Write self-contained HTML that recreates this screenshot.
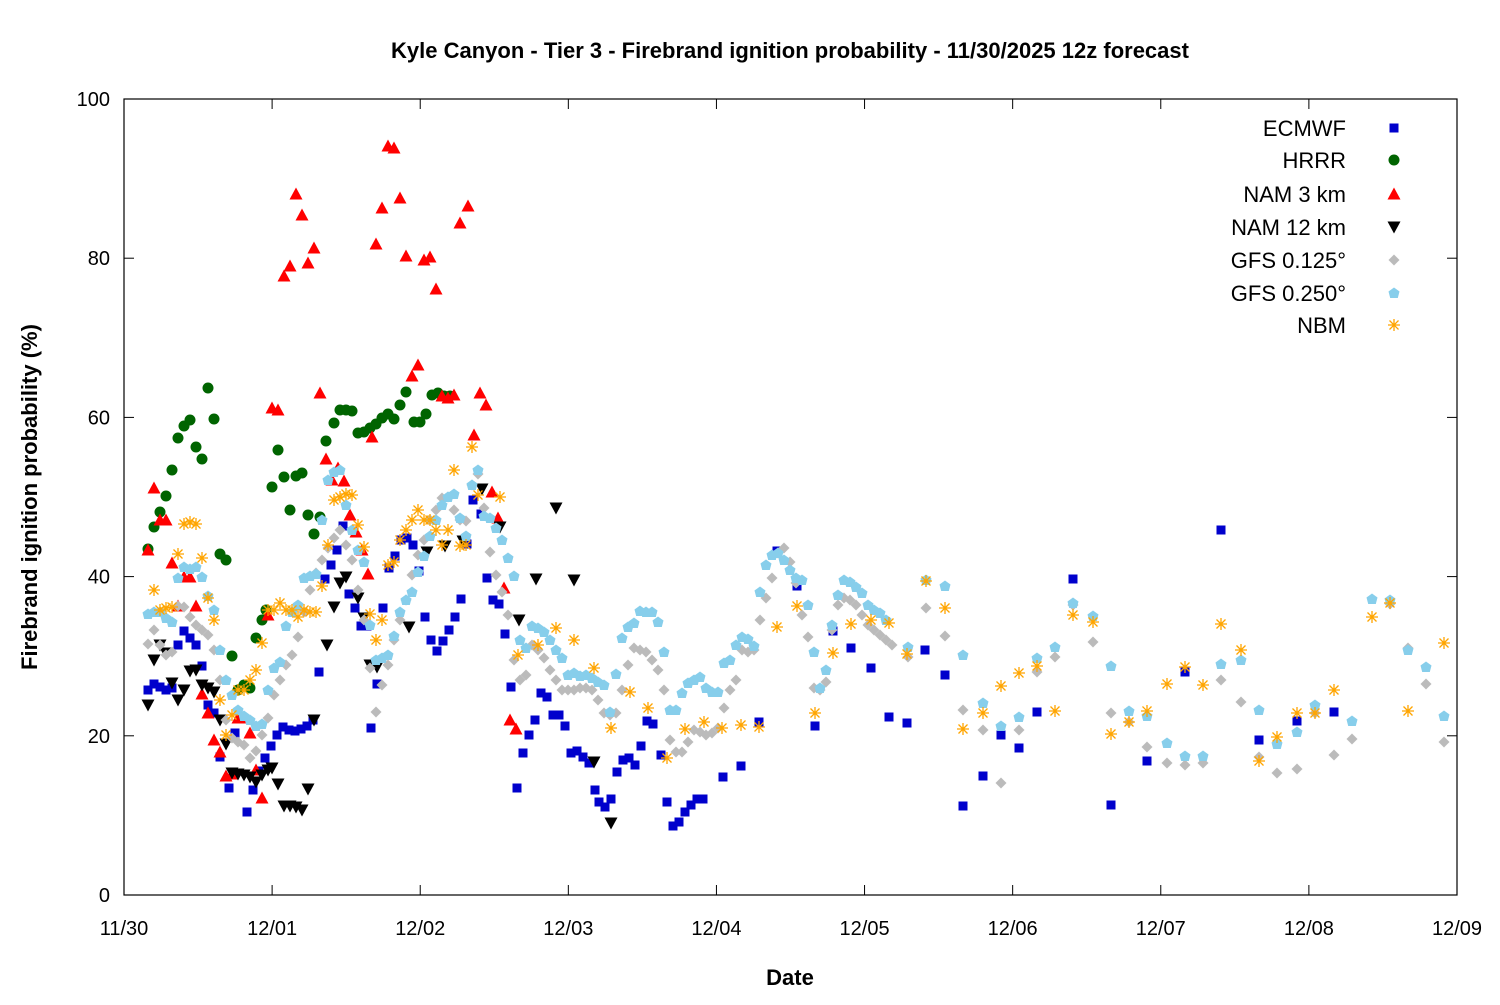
<!DOCTYPE html>
<html><head><meta charset="utf-8"><style>
html,body{margin:0;padding:0;background:#fff;}
svg text{font-family:"Liberation Sans","DejaVu Sans",sans-serif;}
</style></head><body>
<svg id="s" width="1500" height="1000" xmlns="http://www.w3.org/2000/svg">
<rect width="1500" height="1000" fill="#fff"/>
<text x="790" y="58" text-anchor="middle" font-size="22" font-weight="bold">Kyle Canyon - Tier 3 - Firebrand ignition probability - 11/30/2025 12z forecast</text>
<g id="pts"></g>
<rect x="124" y="99" width="1333" height="796" fill="none" stroke="#000" stroke-width="1.2"/>
<g id="ax" font-size="20"></g>
<text x="790" y="985" text-anchor="middle" font-size="22" font-weight="bold">Date</text>
<text transform="translate(37,497) rotate(-90)" text-anchor="middle" font-size="22" font-weight="bold">Firebrand ignition probability (%)</text>
<g id="leg" font-size="22"></g>
</svg>
<script>
const NS="http://www.w3.org/2000/svg";
function el(t,a,p){const e=document.createElementNS(NS,t);for(const k in a)e.setAttribute(k,a[k]);p.appendChild(e);return e;}
const ax=document.getElementById('ax');
const dates=["11/30","12/01","12/02","12/03","12/04","12/05","12/06","12/07","12/08","12/09"];
for(let i=0;i<10;i++){const x=124+i*148.11;
 el('line',{x1:x,y1:895,x2:x,y2:885,stroke:'#000'},ax);el('line',{x1:x,y1:99,x2:x,y2:109,stroke:'#000'},ax);
 const t=el('text',{x:x,y:935,'text-anchor':'middle'},ax);t.textContent=dates[i];}
for(let i=0;i<=5;i++){const y=895-i*159.2;
 el('line',{x1:124,y1:y,x2:134,y2:y,stroke:'#000'},ax);el('line',{x1:1457,y1:y,x2:1447,y2:y,stroke:'#000'},ax);
 const t=el('text',{x:110,y:y+7,'text-anchor':'end'},ax);t.textContent=i*20;}
function P(s){const a=s.trim().split(/;\s*/).map(p=>p.split(',').map(Number));return a;}
const g=document.getElementById('pts');
function mark(type,x,y,c,par){par=par||g;
 if(type=='sq')el('rect',{x:x-4.5,y:y-4.5,width:9,height:9,fill:c},par);
 else if(type=='ci')el('circle',{cx:x,cy:y,r:5.5,fill:c},par);
 else if(type=='tu')el('polygon',{points:`${x},${y-6.5} ${x+6.5},${y+5.5} ${x-6.5},${y+5.5}`,fill:c},par);
 else if(type=='td')el('polygon',{points:`${x},${y+6.5} ${x+6.5},${y-5.5} ${x-6.5},${y-5.5}`,fill:c},par);
 else if(type=='di')el('polygon',{points:`${x},${y-5.5} ${x+5.5},${y} ${x},${y+5.5} ${x-5.5},${y}`,fill:c},par);
 else if(type=='pe')el('polygon',{points:`${x},${y-5.5} ${x+5.5},${y-1.5} ${x+3.8},${y+5} ${x-3.8},${y+5} ${x-5.5},${y-1.5}`,fill:c},par);
 else if(type=='as'){const d=`M${x-6},${y}H${x+6}M${x},${y-6}V${y+6}M${x-4.5},${y-4.5}L${x+4.5},${y+4.5}M${x-4.5},${y+4.5}L${x+4.5},${y-4.5}`;el('path',{d:d,stroke:c,'stroke-width':1.3,fill:'none'},par);}
}
const S=[
['sq','#0000cc',"148,690;154,684;160,687;166,690;172,688;178,645;184,631;190,638;196,645;202,666;208,705;214,713;220,757;229,788;235,733;247,812;253,790;259,771;265,758;271,746;277,735;283,727;289,730;295,731;301,729;307,726;313,720;319,672;325,579;331,565;337,550;343,526;349,594;355,608;361,626;367,626;371,728;377,684;383,608;389,568;395,556;401,540;407,538;413,545;419,571;425,617;431,640;437,651;443,641;449,630;455,617;461,599;467,544;473,500;481,514;487,578;493,600;499,604;505,634;511,687;517,788;523,753;529,735;535,720;541,693;547,697;553,715;559,715;565,726;571,753;577,751;583,757;589,763;595,790;599,802;605,807;611,799;617,772;623,760;629,758;635,765;641,746;647,721;653,724;661,755;667,802;673,826;679,822;685,812;691,805;697,799;703,799;723,777;741,766;759,722;777,551;797,586;815,726;833,631;851,648;871,668;889,717;907,723;925,650;945,675;963,806;983,776;1001,735;1019,748;1037,712;1073,579;1111,805;1147,761;1185,672;1221,530;1259,740;1297,721;1334,712"],
['ci','#006400',"148,549;154,527;160,512;166,496;172,470;178,438;184,426;190,420;196,447;202,459;208,388;214,419;220,554;226,560;232,656;238,690;244,685;250,688;256,638;262,620;266,610;272,487;278,450;284,477;290,510;296,476;302,473;308,515;314,534;320,517;326,441;334,423;340,410;346,410;352,411;358,433;364,432;370,428;376,424;382,418;388,414;394,419;400,405;406,392;414,422;420,422;426,414;432,395;438,393;444,396;450,396"],
['tu','#ff0000',"148,550;154,488;160,520;166,520;172,563;178,606;184,577;190,577;196,606;202,694;208,713;214,740;220,752;226,776;232,774;238,718;244,718;250,733;256,770;262,798;268,615;272,408;278,410;284,276;290,266;296,194;302,215;308,263;314,248;320,393;326,459;332,480;338,468;344,481;350,515;356,532;362,550;368,574;372,437;376,244;382,208;388,146;394,148;400,198;406,256;412,376;418,365;424,260;430,257;436,289;442,396;448,398;454,395;460,223;468,206;474,435;480,393;486,405;492,492;498,518;504,588;510,720;516,729"],
['td','#000000',"148,705;154,660;160,645;166,653;172,683;178,700;184,690;190,671;196,670;202,685;208,688;214,692;220,720;226,744;232,773;238,774;244,775;250,777;256,782;262,775;268,770;272,768;278,784;284,806;290,806;296,807;302,810;308,789;314,720;327,645;334,607;340,583;346,577;358,598;364,618;370,665;377,667;409,627;427,552;445,546;463,541;482,489;500,527;519,620;536,579;556,508;574,580;594,762;611,823"],
['di','#bbbbbb',"148,644;154,630;160,645;166,655;172,652;178,606;184,607;190,617;196,625;202,630;208,635;214,650;220,680;226,720;232,738;238,742;244,745;250,758;256,751;262,735;268,718;274,695;280,680;286,665;292,655;298,637;304,612;310,590;316,573;322,560;328,548;334,538;340,530;346,545;352,560;358,590;364,620;370,668;376,712;382,685;388,665;394,640;400,620;406,600;412,575;418,555;424,540;430,520;436,510;442,498;448,497;454,510;460,520;466,521;472,485;478,474;484,508;490,552;496,575;502,592;508,615;514,660;520,680;526,675;532,645;538,650;544,658;550,670;556,680;562,690;568,690;574,690;580,688;586,688;592,690;598,700;604,713;610,715;616,713;622,690;628,665;634,648;640,650;646,652;652,660;658,670;664,690;670,740;676,752;682,752;688,742;694,730;700,732;706,735;712,733;718,728;724,708;730,690;736,680;742,650;748,652;754,650;760,620;766,598;772,578;778,553;784,548;790,562;796,583;802,615;808,637;814,688;820,690;826,682;832,630;838,605;844,598;850,600;856,605;862,615;868,625;874,630;880,635;886,640;892,645;908,657;926,608;945,636;963,710;983,730;1001,783;1019,730;1037,672;1055,657;1073,605;1093,642;1111,713;1129,722;1147,747;1167,763;1185,765;1203,763;1221,680;1241,702;1259,757;1277,773;1297,769;1315,713;1334,755;1352,739;1390,604;1408,648;1426,684;1444,742"],
['pe','#87ceeb',"148,614;154,612;160,612;166,618;172,622;178,578;184,567;190,569;196,567;202,577;208,596;214,610;220,650;226,680;232,695;238,710;244,716;250,720;256,726;262,724;268,690;274,668;280,662;286,626;292,612;298,605;304,578;310,576;316,574;322,520;328,480;334,472;340,470;346,505;352,530;358,550;364,562;370,625;376,660;382,658;388,655;394,636;400,612;406,600;412,592;418,572;424,556;430,536;436,520;442,505;448,497;454,494;460,518;466,536;472,485;478,470;484,516;490,518;496,528;502,540;508,558;514,576;520,640;526,648;532,626;538,628;544,632;550,640;556,650;562,658;568,675;574,673;580,676;586,675;592,678;598,682;604,685;610,712;616,674;622,638;628,627;634,623;640,611;646,612;652,612;658,622;664,652;670,710;676,710;682,693;688,683;694,680;700,677;706,688;712,692;718,692;724,663;730,660;736,645;742,637;748,639;754,646;760,592;766,565;772,555;778,553;784,560;790,570;796,578;802,580;808,605;814,652;820,688;826,670;832,625;838,595;844,580;850,582;856,587;862,593;868,605;874,610;880,613;886,620;908,647;926,580;945,586;963,655;983,703;1001,726;1019,717;1037,658;1055,647;1073,603;1093,616;1111,666;1129,711;1147,716;1167,743;1185,756;1203,756;1221,664;1241,660;1259,710;1277,744;1297,732;1315,705;1352,721;1372,599;1390,600;1408,650;1426,667;1444,716"],
['as','#ffa500',"154,590;160,610;166,608;172,607;178,554;184,524;190,522;196,524;202,558;208,598;214,620;220,700;226,735;232,715;238,690;244,690;250,680;256,670;262,643;268,610;274,610;280,603;286,610;292,610;298,617;304,610;310,612;316,612;322,586;328,545;334,500;340,497;346,494;352,495;358,525;364,547;370,614;376,640;382,620;388,565;394,562;400,540;406,530;412,520;418,510;424,520;430,520;436,530;442,545;448,530;454,470;460,546;466,545;472,447;478,495;500,497;518,655;538,645;556,628;574,640;594,668;611,728;630,692;648,708;667,758;685,729;704,722;722,728;741,725;759,727;777,627;797,606;815,713;833,653;851,624;871,620;889,623;907,654;926,581;945,608;963,729;983,713;1001,686;1019,673;1037,666;1055,711;1073,615;1093,622;1111,734;1129,722;1147,711;1167,684;1185,667;1203,685;1221,624;1241,650;1259,761;1277,737;1297,713;1315,713;1334,690;1372,617;1390,603;1408,711;1444,643"]
];
const names=["ECMWF","HRRR","NAM 3 km","NAM 12 km","GFS 0.125°","GFS 0.250°","NBM"];
const ly=[128,160,194,227,260,293,325];
const leg=document.getElementById('leg');
S.forEach((s,i)=>{P(s[2]).forEach(p=>mark(s[0],p[0],p[1],s[1]));
 const t=el('text',{x:1346,y:ly[i]+8,'text-anchor':'end'},leg);t.textContent=names[i];
 mark(s[0],1394,ly[i],s[1],leg);});
</script>
</body></html>
